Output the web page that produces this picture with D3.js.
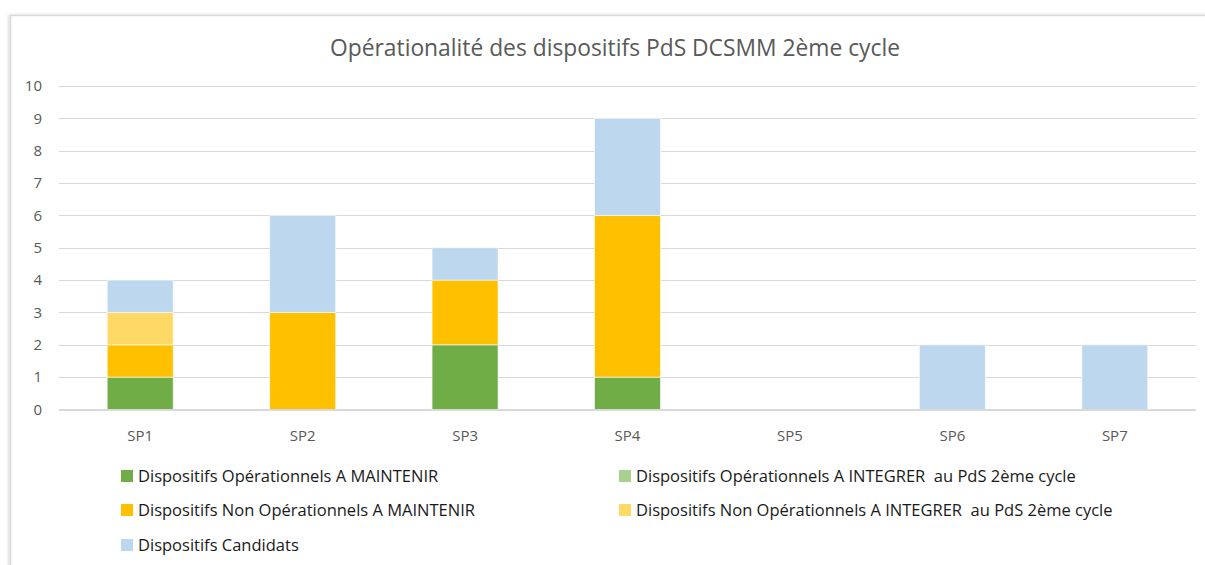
<!DOCTYPE html>
<html><head><meta charset="utf-8">
<script src="https://cdn.jsdelivr.net/npm/d3@7/dist/d3.min.js"></script>
<style>body{margin:0;background:#fff}svg{display:block}text{font-family:"Open Sans","Noto Sans",sans-serif}</style>
</head><body><svg id="c" width="1205" height="565"></svg>
<script>
const categories = ["SP1","SP2","SP3","SP4","SP5","SP6","SP7"];
const seriesNames = [
  "Dispositifs Opérationnels A MAINTENIR",
  "Dispositifs Opérationnels A INTEGRER  au PdS 2ème cycle",
  "Dispositifs Non Opérationnels A MAINTENIR",
  "Dispositifs Non Opérationnels A INTEGRER  au PdS 2ème cycle",
  "Dispositifs Candidats"
];
const opMaintenir    = [1,0,2,1,0,0,0];
const opIntegrer     = [0,0,0,0,0,0,0];
const nonOpMaintenir = [1,3,2,5,0,0,0];
const nonOpIntegrer  = [1,0,0,0,0,0,0];
const candidats      = [1,3,1,3,0,2,2];
const colors = ["#70AD47","#A9D18E","#FFC000","#FFD966","#BDD7EE"];
const yTicks = [0,1,2,3,4,5,6,7,8,9,10];
const title = "Opérationalité des dispositifs PdS DCSMM 2ème cycle";

const svg = d3.select("#c");
const defs = svg.append("defs");
const f = defs.append("filter").attr("id","sh").attr("x","-5%").attr("y","-5%").attr("width","110%").attr("height","110%");
f.append("feDropShadow").attr("dx",-1).attr("dy",0).attr("stdDeviation",1.5).attr("flood-color","#000").attr("flood-opacity",0.2);
// chart frame
svg.append("rect").attr("x",10.5).attr("y",15.5).attr("width",1200).attr("height",560)
  .attr("fill","#fff").attr("stroke","#d9d9d9").attr("stroke-width",1.5).attr("filter","url(#sh)");

const x0=59, x1=1196, yTop=86, yBot=409.5;
const x = d3.scaleBand().domain(categories).range([x0,x1]).paddingInner(0.6).paddingOuter(0.3);
const y = d3.scaleLinear().domain([0,10]).range([yBot,yTop]);

svg.append("text").attr("x",615).attr("y",56).attr("text-anchor","middle")
  .attr("font-size",23).attr("fill","#595959").attr("textLength",570).attr("lengthAdjust","spacingAndGlyphs").text(title);

// gridlines
svg.append("g").selectAll("line").data(yTicks.filter(d=>d>0)).join("line")
  .attr("x1",x0).attr("x2",x1).attr("y1",d=>Math.round(y(d))+0.5).attr("y2",d=>Math.round(y(d))+0.5)
  .attr("stroke","#d9d9d9").attr("stroke-width",1);

// y axis labels
const yAxis = d3.axisLeft(y).tickValues(yTicks).tickSize(0).tickPadding(0);
const ga = svg.append("g").attr("transform",`translate(42,0)`).call(yAxis);
ga.select(".domain").remove();
ga.selectAll("text").attr("font-size",15).attr("fill","#595959").attr("font-family","Open Sans");

// stacked bars
const rows = categories.map((c,i)=>({cat:c, s0:opMaintenir[i], s1:opIntegrer[i], s2:nonOpMaintenir[i], s3:nonOpIntegrer[i], s4:candidats[i]}));
const stack = d3.stack().keys(["s0","s1","s2","s3","s4"])(rows);
const bw = 66;
svg.append("g").selectAll("g").data(stack).join("g").attr("fill",(d,i)=>colors[i])
  .selectAll("rect").data(d=>d.filter(v=>v[1]>v[0])).join("rect")
  .attr("x",d=>x(d.data.cat)+x.bandwidth()/2-bw/2).attr("width",bw)
  .attr("y",d=>y(d[1])).attr("height",d=>y(d[0])-y(d[1]))
  .attr("stroke","#fff").attr("stroke-opacity",0.6).attr("stroke-width",1);

// baseline
svg.append("line").attr("x1",x0).attr("x2",x1).attr("y1",yBot+0.5).attr("y2",yBot+0.5)
  .attr("stroke","#d9d9d9").attr("stroke-width",2);

// x axis labels
const xAxis = d3.axisBottom(x).tickSize(0).tickPadding(0);
const gx = svg.append("g").attr("transform",`translate(0,${yBot+21})`).call(xAxis);
gx.select(".domain").remove();
gx.selectAll("text").attr("font-size",15).attr("fill","#595959").attr("font-family","Open Sans");

// legend
const legPos = [[121,476],[619,476],[121,510],[619,510],[121,545]];
const lg = svg.append("g").selectAll("g").data(seriesNames).join("g")
  .attr("transform",(d,i)=>`translate(${legPos[i][0]},${legPos[i][1]})`);
lg.append("rect").attr("x",0).attr("y",-6).attr("width",12).attr("height",12).attr("fill",(d,i)=>colors[i]);
lg.append("text").attr("x",17).attr("y",5.5).attr("font-size",16.5).attr("fill","#1a1a1a").attr("xml:space","preserve").text(d=>d);
</script></body></html>
